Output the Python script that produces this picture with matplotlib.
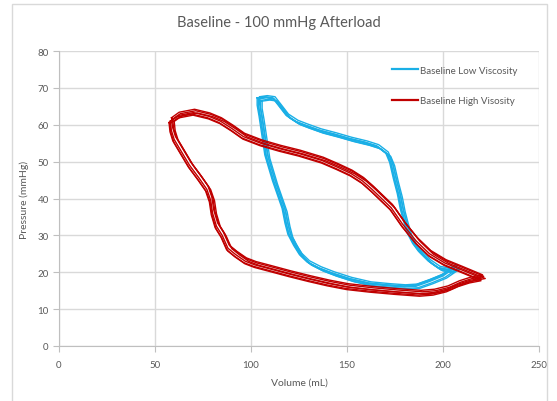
import matplotlib as mpl
import matplotlib.pyplot as plt
from matplotlib.patches import Rectangle

mpl.use("Agg")
plt.rcParams["font.family"] = ["Lato", "DejaVu Sans"]

# one pressure-volume loop per condition (mL, mmHg)
low_visc_volume = [104, 108, 112, 115, 119, 124, 129, 136, 144, 152, 160, 166,
                   171, 173, 175, 177, 178.5, 180, 182, 185, 188, 193, 198, 203,
                   207, 200, 193, 186, 180, 172, 162, 152, 143, 136, 130, 126,
                   123, 120, 118.5, 117, 115, 112, 110, 108, 107, 106, 105, 104, 104]
low_visc_pressure = [67, 67.3, 67, 65, 62.3, 60.6, 59.6, 58.3, 57.2, 56, 55, 54,
                     52, 49.5, 45, 41, 37, 34, 30.5, 27.5, 25.4, 22.8, 21, 20.5,
                     21.5, 19, 17.5, 16.2, 16, 16.3, 16.8, 18, 19.5, 20.9, 22.5, 24.5,
                     27, 30, 33, 37, 40, 44.5, 48, 51.5, 55, 58.5, 62, 65, 67]

high_visc_volume = [58, 62, 70, 78, 84, 90, 96, 105, 115, 125, 137, 145, 152,
                    158, 163, 168, 173, 179, 186, 193, 201, 209, 215, 220, 214,
                    208, 202, 195, 188, 175, 162, 150, 140, 130, 120, 110, 102,
                    97, 92, 88, 85, 82, 80, 79, 77, 73, 68, 64, 60, 58.5, 58]
high_visc_pressure = [61, 62.5, 63.3, 62.3, 61, 59, 56.8, 55, 53.5, 52.2, 50.3, 48.5, 46.8,
                      44.8, 42.5, 40, 37.5, 33, 28.5, 25, 22.5, 20.8, 19.5, 18.4, 17.8,
                      16.8, 15.4, 14.5, 14.2, 14.7, 15.3, 16, 17, 18.2, 19.5, 20.9, 22,
                      23, 24.8, 26.5, 30, 32.5, 36, 39.5, 42.5, 45.5, 49, 52.5, 56, 58.5, 61]

# beat-to-beat drift of each recorded cycle (volume mL, pressure mmHg)
low_cycle_dv = [0, 1.0, -0.8, 1.8, 0.5, -0.3]
low_cycle_dp = [0, -0.4, 0.3, -0.6, 0.6, 0.2]
high_cycle_dv = [0, 1.2, -0.7, 2.0, 0.6, -0.2]
high_cycle_dp = [0, 0.5, -0.4, -0.1, 0.9, -0.7]

BLUE = "#1AAFE6"
RED = "#C00000"
GREY = "#595959"

fig = plt.figure(figsize=(5.57, 4.02), dpi=100)
ax = fig.add_axes([59 / 557, 1 - 347 / 402, 480 / 557, 295 / 402])
fig.patches.append(Rectangle((12 / 557, -0.05), 535 / 557, 1.037, transform=fig.transFigure,
                             fill=False, edgecolor="#D9D9D9", linewidth=1))

for i, (dv, dp) in enumerate(zip(low_cycle_dv, low_cycle_dp)):
    ax.plot([v + dv for v in low_visc_volume], [p + dp for p in low_visc_pressure],
            color=BLUE, lw=1.0, label="Baseline Low Viscosity" if i == 0 else None)
for i, (dv, dp) in enumerate(zip(high_cycle_dv, high_cycle_dp)):
    ax.plot([v + dv for v in high_visc_volume], [p + dp for p in high_visc_pressure],
            color=RED, lw=1.0, label="Baseline High Visosity" if i == 0 else None)

ax.set_xlim(0, 250)
ax.set_ylim(0, 80)
ax.set_xticks(range(0, 251, 50))
ax.set_yticks(range(0, 81, 10))
ax.grid(color="#D9D9D9", lw=1)
ax.set_axisbelow(True)
for side in ["top", "right"]:
    ax.spines[side].set_visible(False)
for side in ["left", "bottom"]:
    ax.spines[side].set_color("#BFBFBF")
ax.tick_params(colors="#BFBFBF", labelcolor=GREY, labelsize=7, length=4, width=0.8)
ax.tick_params(axis="x", pad=6)

ax.set_xlabel("Volume (mL)", color=GREY, fontsize=7.5, labelpad=6)
ax.set_ylabel("Pressure (mmHg)", color=GREY, fontsize=7.5, labelpad=6)
fig.text(0.5, 1 - 23 / 402, "Baseline - 100 mmHg Afterload", ha="center", va="center",
         color=GREY, fontsize=10.5)

leg = ax.legend(loc="upper left", bbox_to_anchor=(0.694, 0.95), frameon=False, fontsize=7,
                labelcolor=GREY, handlelength=2.7, handletextpad=0.15, labelspacing=2.2,
                borderpad=0, borderaxespad=0)
for line in leg.get_lines():
    line.set_linewidth(1.6)

fig.savefig("out.png", dpi=100)
